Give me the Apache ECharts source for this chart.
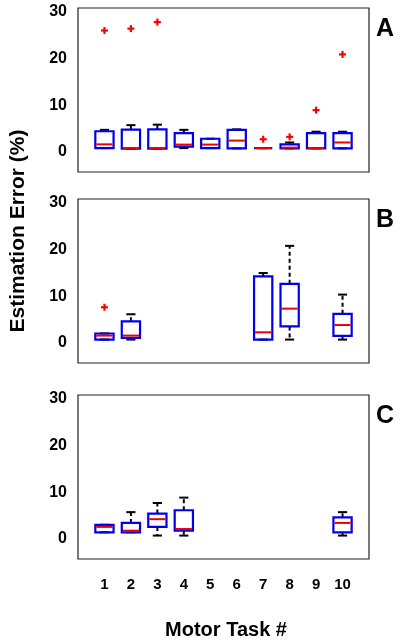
<!DOCTYPE html>
<html>
<head>
<meta charset="utf-8">
<script src="https://cdn.jsdelivr.net/npm/echarts@6/dist/echarts.min.js"></script>
<style>
html,body{margin:0;padding:0;background:#fff;}
#chart{width:400px;height:643px;}
</style>
</head>
<body>
<div id="chart"></div>
<script>
// task numbers shown on the x axis
var taskLabels = ['1','2','3','4','5','6','7','8','9','10'];
var yTicks = [0, 10, 20, 30];
var panelNames = ['A', 'B', 'C'];

// each row: [task, lowerWhisker, Q1, median, Q3, upperWhisker]
var boxesA = [
  [1, 0.1, 0.1, 0.9, 3.7, 4.0],
  [2, 0.0, 0.0, 0.1, 4.05, 5.0],
  [3, 0.0, 0.0, 0.1, 4.1, 5.1],
  [4, 0.1, 0.4, 0.85, 3.3, 4.0],
  [5, 0.1, 0.1, 0.85, 2.1, 2.1],
  [6, 0.05, 0.05, 1.7, 4.0, 4.1],
  [7, 0.1, 0.1, 0.1, 0.1, 0.1],
  [8, 0.05, 0.05, 0.2, 0.9, 1.3],
  [9, 0.05, 0.05, 0.1, 3.3, 3.6],
  [10, 0.05, 0.05, 1.3, 3.3, 3.6]
];
var outliersA = [[1, 25.2], [2, 25.6], [3, 27.0], [7, 2.0], [8, 2.5], [9, 8.2], [10, 20.1]];

var boxesB = [
  [1, 0.0, 0.0, 0.85, 1.3, 1.3],
  [2, 0.0, 0.35, 0.85, 3.9, 5.4],
  [7, 0.0, 0.0, 1.55, 13.5, 14.2],
  [8, 0.0, 2.8, 6.6, 11.9, 20.0],
  [10, 0.0, 0.8, 3.1, 5.5, 9.6]
];
var outliersB = [[1, 6.9]];

var boxesC = [
  [1, 0.7, 0.7, 1.85, 2.3, 2.3],
  [2, 0.7, 0.7, 1.05, 2.7, 5.0],
  [3, 0.0, 1.85, 3.5, 4.7, 6.95],
  [4, 0.0, 1.05, 1.4, 5.4, 8.1],
  [10, 0.0, 0.7, 2.7, 3.9, 5.0]
];
var outliersC = [];

var panelBoxes = [boxesA, boxesB, boxesC];
var panelOutliers = [outliersA, outliersB, outliersC];

var FONT = '"Liberation Sans", Arial, sans-serif';
var gridTops = [8, 199, 395];
var gridH = 164;

var chart = echarts.init(document.getElementById('chart'));

function boxRender(params, api) {
  var x = api.value(0);
  var lo = api.value(1), q1 = api.value(2), med = api.value(3), q3 = api.value(4), hi = api.value(5);
  var w = api.size([0.69, 0])[0];
  var capW = w * 0.5;
  var pLo = api.coord([x, lo]), pQ1 = api.coord([x, q1]), pMed = api.coord([x, med]);
  var pQ3 = api.coord([x, q3]), pHi = api.coord([x, hi]);
  var cx = pMed[0];
  var children = [];
  var wStyle = {stroke: '#000', lineWidth: 2, lineDash: [4, 3]};
  var cStyle = {stroke: '#000', lineWidth: 2};
  if (hi > q3) {
    children.push({type: 'line', shape: {x1: cx, y1: pQ3[1], x2: cx, y2: pHi[1]}, style: wStyle});
  }
  if (lo < q1) {
    children.push({type: 'line', shape: {x1: cx, y1: pQ1[1], x2: cx, y2: pLo[1]}, style: wStyle});
  }
  children.push({type: 'line', shape: {x1: cx - capW / 2, y1: pHi[1], x2: cx + capW / 2, y2: pHi[1]}, style: cStyle});
  children.push({type: 'line', shape: {x1: cx - capW / 2, y1: pLo[1], x2: cx + capW / 2, y2: pLo[1]}, style: cStyle});
  children.push({type: 'rect', shape: {x: cx - w / 2, y: pQ3[1], width: w, height: pQ1[1] - pQ3[1]},
    style: {fill: 'none', stroke: '#0000ee', lineWidth: 2.2}});
  children.push({type: 'line', shape: {x1: cx - w / 2 + 1, y1: pMed[1], x2: cx + w / 2 - 1, y2: pMed[1]},
    style: {stroke: '#ee0000', lineWidth: 2}});
  return {type: 'group', children: children};
}

function plusRender(params, api) {
  var p = api.coord([api.value(0), api.value(1)]);
  var s = 3.5;
  return {type: 'group', children: [
    {type: 'line', shape: {x1: p[0] - s, y1: p[1], x2: p[0] + s, y2: p[1]}, style: {stroke: '#ff0000', lineWidth: 2.2}},
    {type: 'line', shape: {x1: p[0], y1: p[1] - s, x2: p[0], y2: p[1] + s}, style: {stroke: '#ff0000', lineWidth: 2.2}}
  ]};
}

var grids = [], xAxes = [], yAxes = [], series = [], graphics = [];
for (var i = 0; i < 3; i++) {
  grids.push({left: 78, width: 291, top: gridTops[i], height: gridH, show: true,
    borderColor: '#222', borderWidth: 1.2, backgroundColor: '#fff'});
  xAxes.push({type: 'value', gridIndex: i, min: 0, max: 11, interval: 1,
    axisLine: {show: false}, axisTick: {show: false}, splitLine: {show: false},
    axisLabel: {show: i === 2, margin: 18, color: '#000', fontFamily: FONT, fontWeight: 'bold', fontSize: 15,
      formatter: function (v) { return (v >= 1 && v <= taskLabels.length) ? taskLabels[v - 1] : ''; }}});
  yAxes.push({type: 'value', gridIndex: i, min: -5, max: 30, interval: 5,
    axisLine: {show: false}, axisTick: {show: false}, splitLine: {show: false},
    axisLabel: {margin: 11, color: '#000', fontFamily: FONT, fontWeight: 'bold', fontSize: 16,
      verticalAlign: 'top', lineHeight: 7,
      formatter: function (v) { return yTicks.indexOf(v) >= 0 ? String(v) : ''; }}});
  series.push({type: 'custom', xAxisIndex: i, yAxisIndex: i, renderItem: boxRender,
    encode: {x: 0, y: [1, 2, 3, 4, 5]}, data: panelBoxes[i], clip: false, z: 2});
  series.push({type: 'custom', xAxisIndex: i, yAxisIndex: i, renderItem: plusRender,
    encode: {x: 0, y: 1}, data: panelOutliers[i], clip: false, z: 3});
  graphics.push({type: 'text', left: 376, top: gridTops[i] + 9,
    style: {text: panelNames[i], font: 'bold 25px ' + FONT, fill: '#000'}});
}
graphics.push({type: 'text', x: 226, y: 630,
  style: {text: 'Motor Task #', font: 'bold 20px ' + FONT, fill: '#000', textAlign: 'center', textVerticalAlign: 'middle'}});
graphics.push({type: 'text', x: 18, y: 231, rotation: Math.PI / 2,
  style: {text: 'Estimation Error (%)', font: 'bold 21px ' + FONT, fill: '#000', textAlign: 'center', textVerticalAlign: 'middle'}});

chart.setOption({
  animation: false,
  backgroundColor: '#fff',
  grid: grids, xAxis: xAxes, yAxis: yAxes, series: series, graphic: graphics
});
</script>
</body>
</html>
